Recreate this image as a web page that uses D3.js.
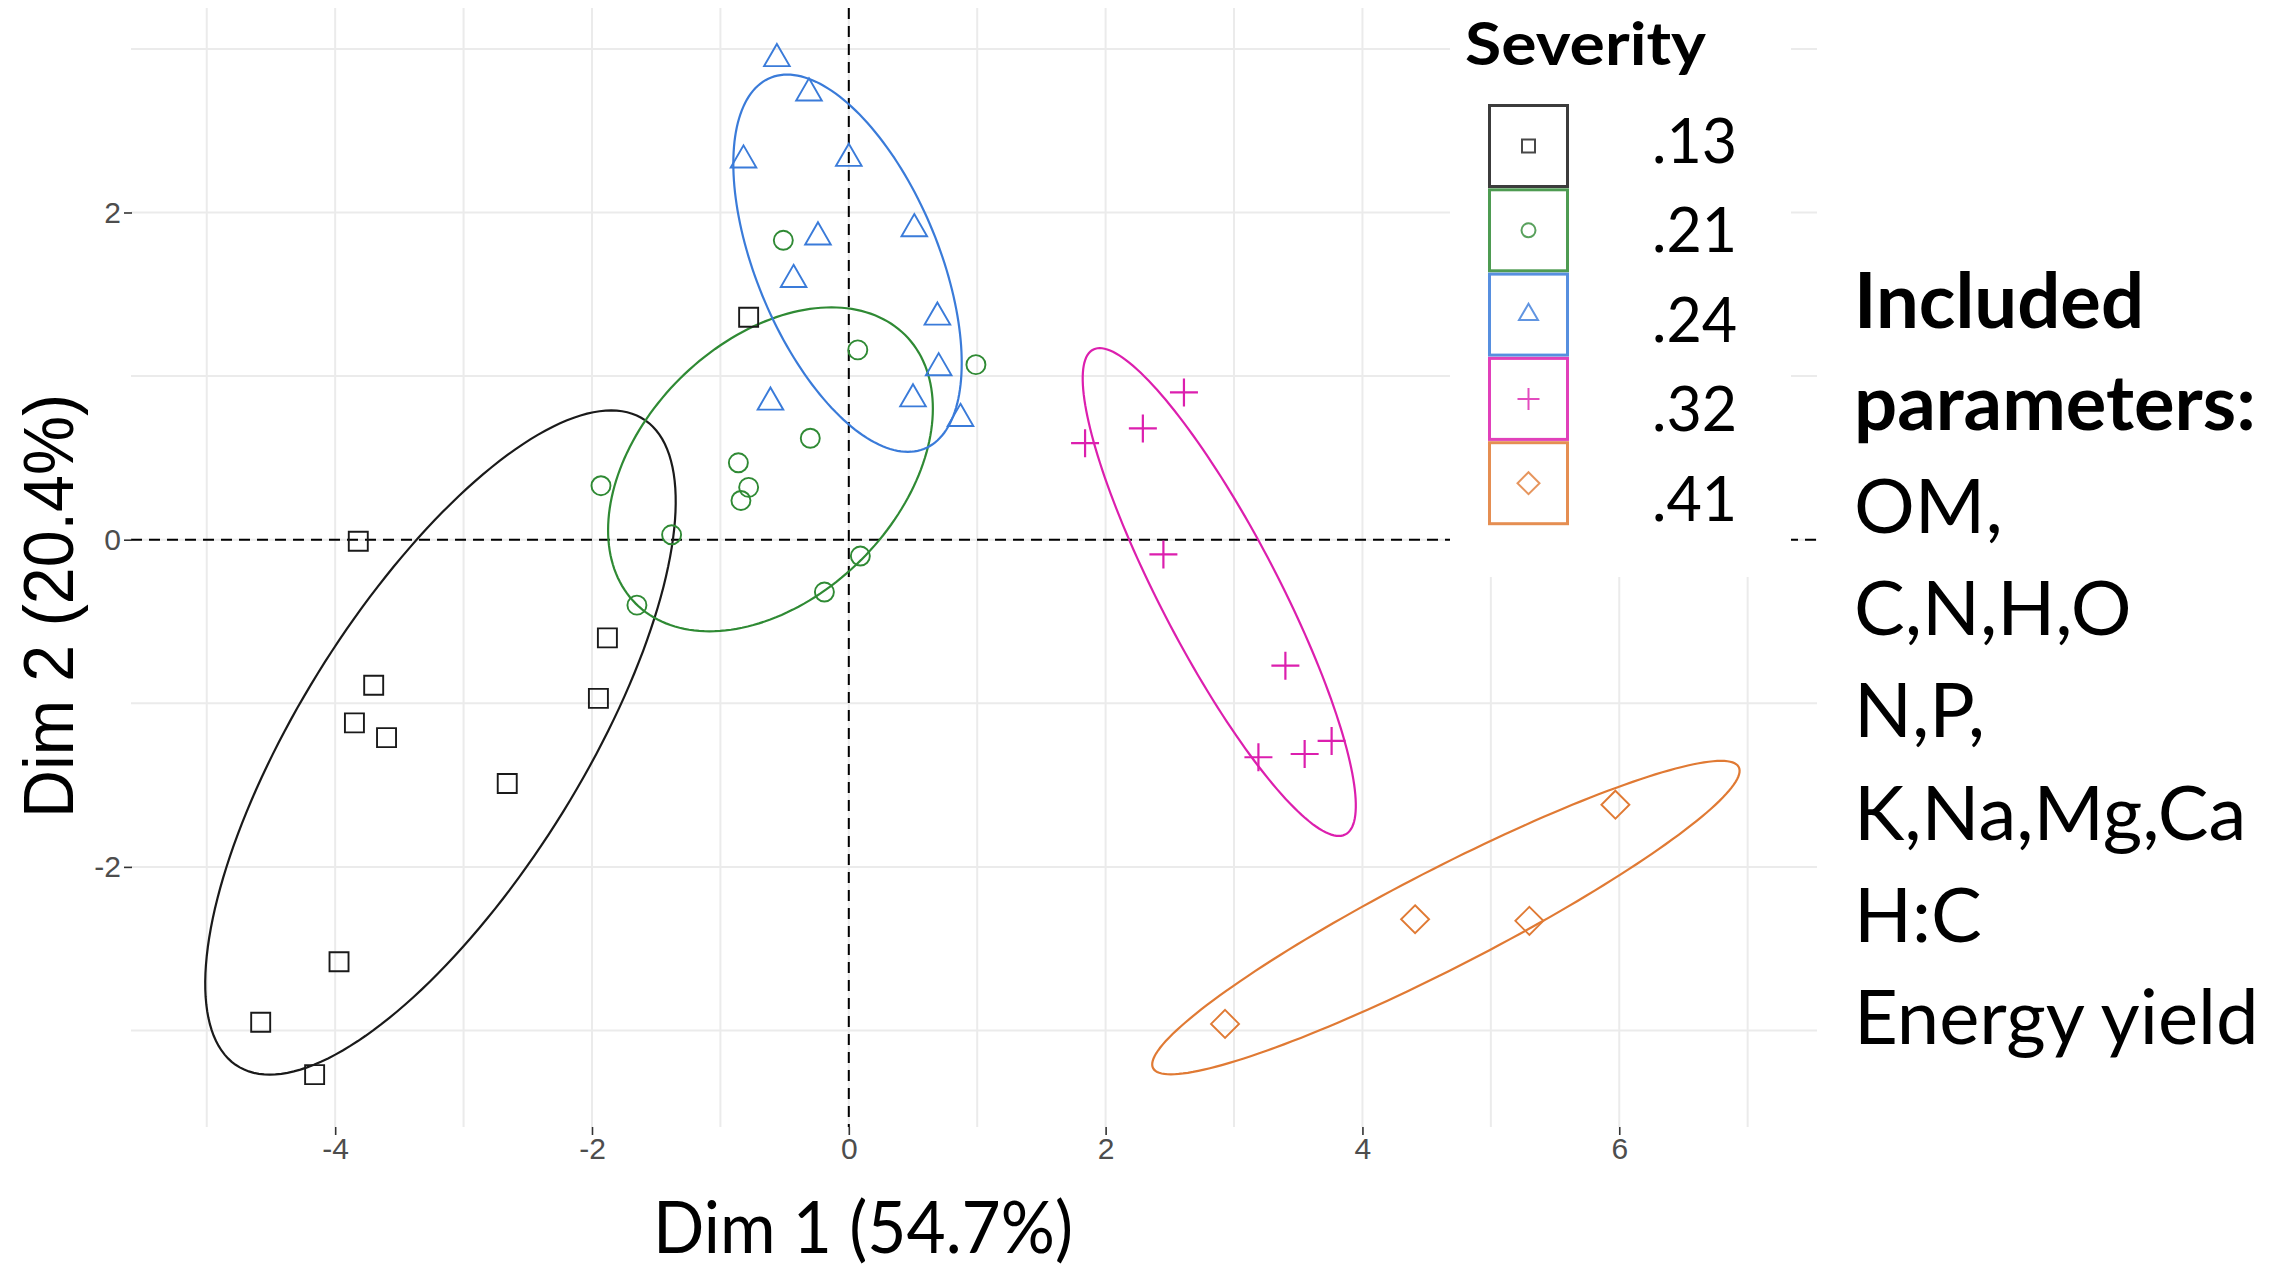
<!DOCTYPE html>
<html>
<head>
<meta charset="utf-8">
<script src="https://cdn.jsdelivr.net/npm/d3@7"></script>
<style>
  body { margin: 0; background: #ffffff; }
  svg { display: block; }
</style>
</head>
<body>
<svg id="chart" width="2289" height="1270"></svg>
<script>
// ---- Data: PCA scores (Dim 1, Dim 2) per severity group ----
const severityLevels = [".13", ".21", ".24", ".32", ".41"];
const severityShapes = ["square", "circle", "triangle", "plus", "diamond"];
const severityColors = ["#1a1a1a", "#2f8a34", "#3a7bd9", "#dc1fae", "#e07a34"];

const scores13 = [[-0.78, 1.36], [-3.82, -0.01], [-1.88, -0.60], [-3.70, -0.89], [-1.95, -0.97],
                  [-3.85, -1.12], [-3.60, -1.21], [-2.66, -1.49], [-3.97, -2.58], [-4.58, -2.95], [-4.16, -3.27]];
const scores21 = [[-0.51, 1.83], [0.07, 1.16], [0.99, 1.07], [-0.30, 0.62], [-0.86, 0.47], [-0.78, 0.32],
                  [-0.84, 0.24], [-1.93, 0.33], [-1.38, 0.03], [0.09, -0.10], [-0.19, -0.32], [-1.65, -0.40]];
const scores24 = [[-0.56, 2.94], [-0.31, 2.73], [-0.82, 2.32], [0.00, 2.33], [-0.24, 1.85], [0.51, 1.90],
                  [-0.43, 1.59], [0.69, 1.36], [0.70, 1.05], [-0.61, 0.84], [0.50, 0.86], [0.87, 0.74]];
const scores32 = [[1.84, 0.59], [2.29, 0.68], [2.61, 0.90], [2.45, -0.09], [3.40, -0.77],
                  [3.76, -1.23], [3.55, -1.31], [3.19, -1.33]];
const scores41 = [[5.97, -1.62], [4.41, -2.32], [5.30, -2.33], [2.93, -2.96]];
const scoresByGroup = [scores13, scores21, scores24, scores32, scores41];

// Concentration ellipses: centre and two conjugate semi-diameters (data units)
const ellipseCenters = [[-3.18, -1.24], [-0.61, 0.43], [-0.01, 1.69], [2.885, -0.32], [4.65, -2.31]];
const ellipseAxisU   = [[1.33, 2.03], [0.475, 0.99], [-0.47, 1.153], [-0.931, 1.491], [2.142, 0.958]];
const ellipseAxisV   = [[1.26, 0.0], [1.172, 0.0], [0.755, 0.0], [0.514, 0.0], [0.802, 0.0]];

// Axis ticks and grid
const xTicks = [-4, -2, 0, 2, 4, 6];
const yTicks = [-2, 0, 2];
const xGrid = [-5, -4, -3, -2, -1, 0, 1, 2, 3, 4, 5, 6, 7];
const yGrid = [-3, -2, -1, 0, 1, 2, 3];

const xTitle = "Dim 1 (54.7%)";
const yTitle = "Dim 2 (20.4%)";
const legendTitle = "Severity";
const noteHeading = ["Included", "parameters:"];
const noteLines = ["OM,", "C,N,H,O", "N,P,", "K,Na,Mg,Ca", "H:C", "Energy yield"];

// ---- Layout ----
const svg = d3.select("#chart");
const panel = { left: 131, right: 1817, top: 8, bottom: 1127 };

const x = d3.scaleLinear().domain([-5.59, 7.54]).range([panel.left, panel.right]);
const y = d3.scaleLinear().domain([-3.59, 3.25]).range([panel.bottom, panel.top]);

// Grid
const grid = svg.append("g").attr("class", "grid");
grid.selectAll("line.vg").data(xGrid).join("line")
  .attr("class", "vg")
  .attr("x1", d => x(d)).attr("x2", d => x(d))
  .attr("y1", panel.top).attr("y2", panel.bottom)
  .attr("stroke", "#ebebeb").attr("stroke-width", 2);
grid.selectAll("line.hg").data(yGrid).join("line")
  .attr("class", "hg")
  .attr("x1", panel.left).attr("x2", panel.right)
  .attr("y1", d => y(d)).attr("y2", d => y(d))
  .attr("stroke", "#ebebeb").attr("stroke-width", 2);

// Reference lines through the origin
svg.append("line")
  .attr("x1", x(0)).attr("x2", x(0)).attr("y1", panel.top).attr("y2", panel.bottom)
  .attr("stroke", "#000").attr("stroke-width", 2).attr("stroke-dasharray", "11,7");
svg.append("line")
  .attr("x1", panel.left).attr("x2", panel.right).attr("y1", y(0)).attr("y2", y(0))
  .attr("stroke", "#000").attr("stroke-width", 2).attr("stroke-dasharray", "11,7");

// Axes
const tickFont = "'Liberation Sans Narrow', 'Liberation Sans', sans-serif";
const xAxis = svg.append("g")
  .attr("transform", `translate(0,${panel.bottom})`)
  .call(d3.axisBottom(x).tickValues(xTicks).tickSize(8).tickPadding(3).tickFormat(d => String(d)));
const yAxis = svg.append("g")
  .attr("transform", `translate(${panel.left + 1},0)`)
  .call(d3.axisLeft(y).tickValues(yTicks).tickSize(8).tickPadding(3).tickFormat(d => String(d)));
[xAxis, yAxis].forEach(a => {
  a.select(".domain").remove();
  a.selectAll(".tick line").attr("stroke", "#333").attr("stroke-width", 1.6);
  a.selectAll(".tick text")
    .attr("fill", "#4d4d4d")
    .style("font-family", tickFont)
    .style("font-size", "30px");
});

// Ellipses
const thetas = d3.range(0, 181).map(i => i / 180 * 2 * Math.PI);
const ellipseLine = d3.line().x(d => x(d[0])).y(d => y(d[1])).curve(d3.curveLinearClosed);
svg.append("g").attr("class", "ellipses")
  .selectAll("path").data(severityLevels).join("path")
  .attr("d", (d, i) => {
    const c = ellipseCenters[i], u = ellipseAxisU[i], v = ellipseAxisV[i];
    return ellipseLine(thetas.map(t => [
      c[0] + u[0] * Math.cos(t) + v[0] * Math.sin(t),
      c[1] + u[1] * Math.cos(t) + v[1] * Math.sin(t)
    ]));
  })
  .attr("fill", "none")
  .attr("stroke", (d, i) => severityColors[i])
  .attr("stroke-width", 2.2);

// Marker shapes (outline symbols), r = half size in px
function shapePath(shape, r) {
  switch (shape) {
    case "square":
      return `M${-r},${-r}H${r}V${r}H${-r}Z`;
    case "circle":
      return `M${r},0A${r},${r} 0 1,1 ${-r},0A${r},${r} 0 1,1 ${r},0Z`;
    case "triangle": {
      const h = r * Math.sqrt(3);
      return `M0,${-2 * h / 3}L${r},${h / 3}L${-r},${h / 3}Z`;
    }
    case "plus":
      return `M${-r},0H${r}M0,${-r}V${r}`;
    case "diamond":
      return `M0,${-r}L${r},0L0,${r}L${-r},0Z`;
  }
}
const markerSize = { square: 9.5, circle: 9.5, triangle: 12.8, plus: 14, diamond: 14 };

const pointsG = svg.append("g").attr("class", "points");
scoresByGroup.forEach((pts, gi) => {
  const shape = severityShapes[gi];
  pointsG.append("g")
    .selectAll("path").data(pts).join("path")
    .attr("transform", d => `translate(${x(d[0])},${y(d[1])})`)
    .attr("d", shapePath(shape, markerSize[shape]))
    .attr("fill", "none")
    .attr("stroke", severityColors[gi])
    .attr("stroke-width", shape === "plus" ? 2.2 : 1.9);
});

// Legend
const legend = svg.append("g").attr("class", "legend");
legend.append("rect")
  .attr("x", 1450).attr("y", 0).attr("width", 341).attr("height", 577)
  .attr("fill", "#ffffff");
legend.append("text")
  .attr("x", 1465).attr("y", 65)
  .attr("textLength", 241).attr("lengthAdjust", "spacingAndGlyphs")
  .style("font-family", "Lato, 'Open Sans', sans-serif")
  .style("font-weight", 700).style("font-size", "59px")
  .text(legendTitle);
const keyTop = 104, keyStep = 84.3, keyW = 81, keyH = 84, keyX = 1488;
const keys = legend.selectAll("g.key").data(severityLevels).join("g")
  .attr("class", "key")
  .attr("transform", (d, i) => `translate(${keyX},${keyTop + i * keyStep})`);
keys.append("rect")
  .attr("x", 1.5).attr("y", 1.5).attr("width", keyW - 3).attr("height", keyH - 3)
  .attr("fill", "#fff")
  .attr("stroke", (d, i) => severityColors[i])
  .attr("stroke-opacity", 0.85)
  .attr("stroke-width", 3);
const keyMarker = { square: 6.5, circle: 7, triangle: 9.5, plus: 11, diamond: 11 };
keys.append("path")
  .attr("transform", `translate(${keyW / 2},${keyH / 2})`)
  .attr("d", (d, i) => shapePath(severityShapes[i], keyMarker[severityShapes[i]]))
  .attr("fill", "none")
  .attr("stroke", (d, i) => severityColors[i])
  .attr("stroke-opacity", 0.8)
  .attr("stroke-width", 2);
// Level labels sit on their own, slightly wider, rhythm
legend.selectAll("text.level").data(severityLevels).join("text")
  .attr("class", "level")
  .attr("x", 1652)
  .attr("y", (d, i) => 163 + i * 89.4)
  .style("font-family", "Lato, 'Open Sans', sans-serif")
  .style("font-size", "61px")
  .text(d => d);

// Axis titles
svg.append("text")
  .attr("x", 863).attr("y", 1253).attr("text-anchor", "middle")
  .attr("textLength", 420).attr("lengthAdjust", "spacingAndGlyphs")
  .style("font-family", "Lato, 'Open Sans', sans-serif")
  .style("font-size", "71px")
  .text(xTitle);
svg.append("text")
  .attr("transform", "translate(73,606) rotate(-90)")
  .attr("text-anchor", "middle")
  .attr("textLength", 424).attr("lengthAdjust", "spacingAndGlyphs")
  .style("font-family", "'Liberation Sans', Arial, sans-serif")
  .style("font-size", "70px")
  .text(yTitle);

// Side note listing the included parameters
const note = svg.append("g").attr("class", "note")
  .style("font-family", "Lato, 'Open Sans', sans-serif")
  .style("font-size", "76px");
const noteAll = noteHeading.concat(noteLines);
note.selectAll("text").data(noteAll).join("text")
  .attr("x", 1854)
  .attr("y", (d, i) => 328 + i * 102.3)
  .style("font-weight", (d, i) => i < noteHeading.length ? 700 : 400)
  .text(d => d);
</script>
</body>
</html>
